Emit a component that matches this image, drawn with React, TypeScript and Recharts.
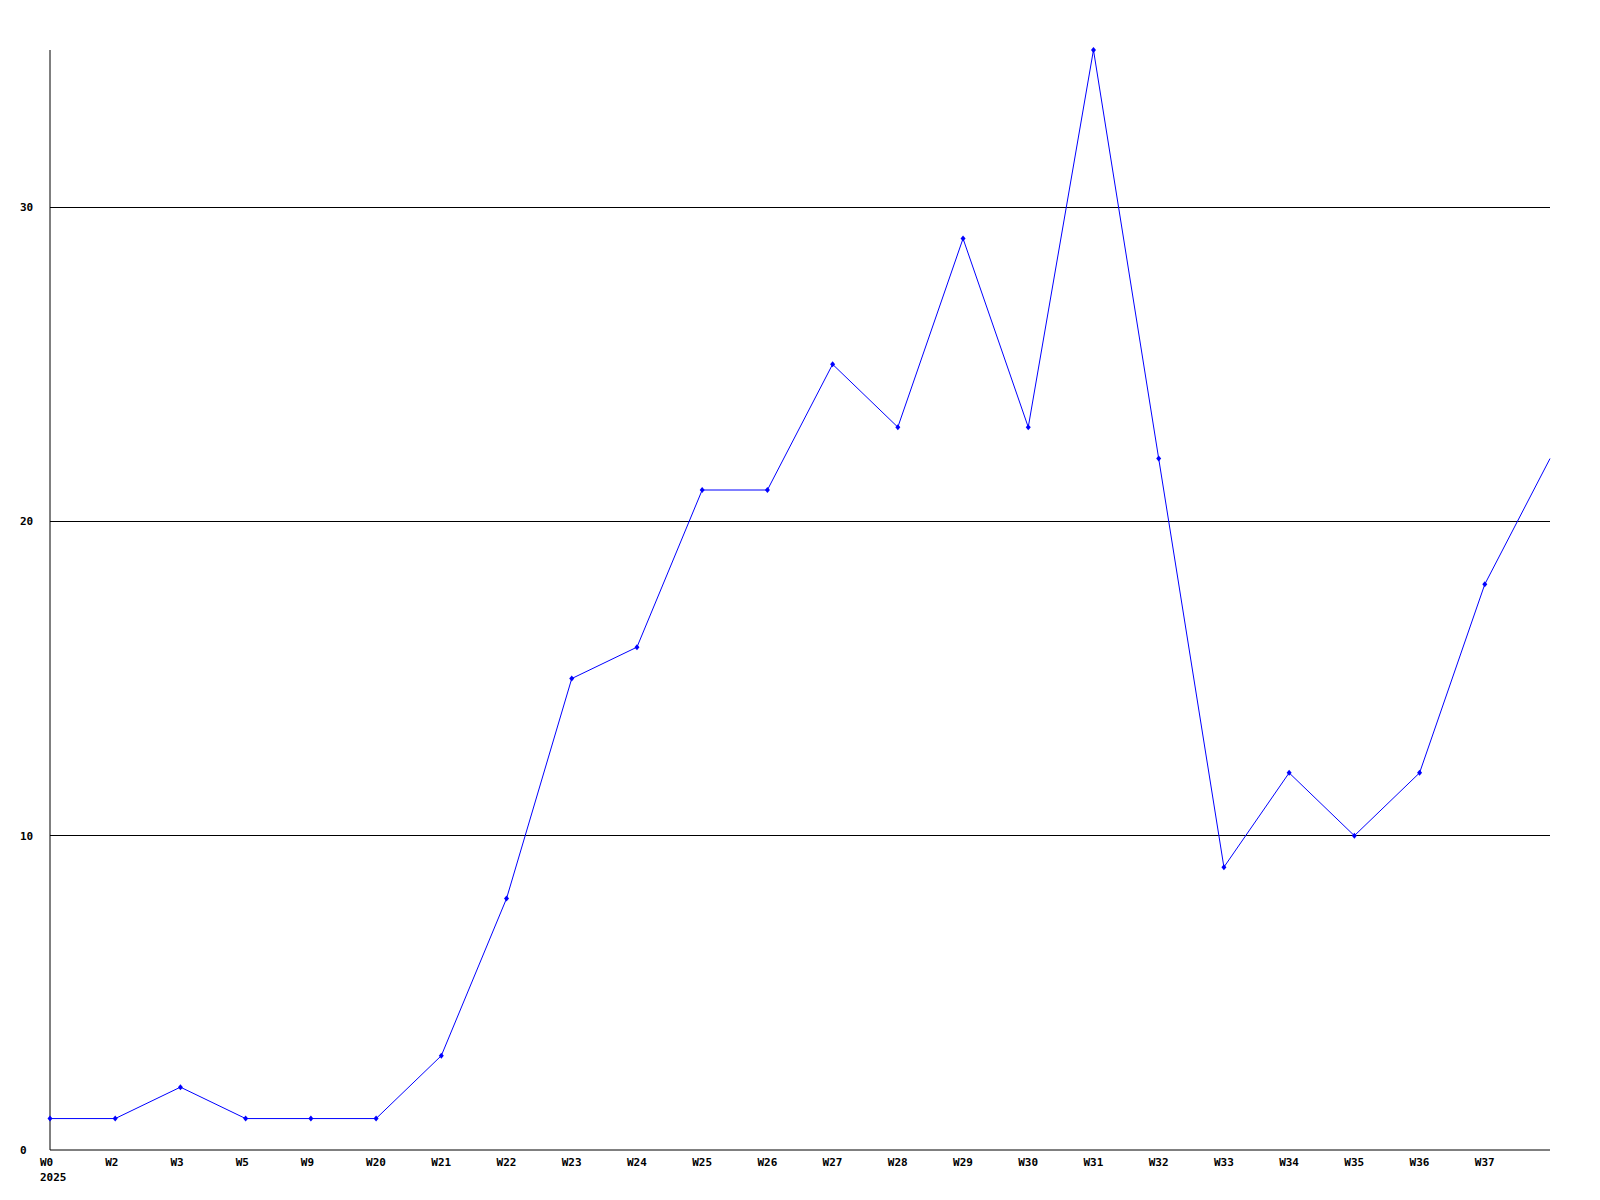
import { CartesianGrid, Line, LineChart, XAxis, YAxis } from "recharts";

const weeks = ["W0", "W2", "W3", "W5", "W9", "W20", "W21", "W22", "W23", "W24", "W25", "W26", "W27", "W28", "W29", "W30", "W31", "W32", "W33", "W34", "W35", "W36", "W37", ""];
const counts = [1, 1, 2, 1, 1, 1, 3, 8, 15, 16, 21, 21, 25, 23, 29, 23, 35, 22, 9, 12, 10, 12, 18, 22];
const yTicks = [0, 10, 20, 30];
const yearLabel = "2025";

const data = weeks.map((w, i) => ({ idx: i, week: w, count: counts[i] }));

const FONT = "'DejaVu Sans Mono', monospace";

function WeekTick(props: any) {
  const { x, y, payload, index } = props;
  const label = weeks[payload.value as number];
  return (
    <g>
      <text x={x - 10} y={y + 8} fontFamily={FONT} fontSize={11} fontWeight="bold" fill="#000">
        {label}
      </text>
      {index === 0 && (
        <text x={x - 10} y={y + 23} fontFamily={FONT} fontSize={11} fontWeight="bold" fill="#000">
          {yearLabel}
        </text>
      )}
    </g>
  );
}

function CountTick(props: any) {
  const { y, payload } = props;
  return (
    <text x={20} y={y + 4} fontFamily={FONT} fontSize={11} fontWeight="bold" fill="#000">
      {payload.value}
    </text>
  );
}

function Diamond(props: any) {
  const { cx, cy, index } = props;
  // the trailing point (no week label) is drawn without a marker
  if (cx == null || cy == null || index === weeks.length - 1) return <g key={`d${index}`} />;
  return <path key={`d${index}`} d={`M${cx},${cy - 3}L${cx + 2.5},${cy}L${cx},${cy + 3}L${cx - 2.5},${cy}Z`} fill="#0000ff" />;
}

export default function App() {
  return (
    <div style={{ position: "absolute", left: 0, top: 0, width: 1600, height: 1200, background: "#fff" }}>
      <LineChart width={1600} height={1200} data={data} margin={{ top: 50, right: 50, left: 0, bottom: 0 }}>
        <CartesianGrid vertical={false} stroke="#000" horizontalValues={[10, 20, 30]} shapeRendering="crispEdges" />
        <XAxis
          dataKey="idx"
          type="category"
          height={50}
          tickLine={false}
          axisLine={{ stroke: "#000" }}
          tick={<WeekTick />}
          interval={0}
        />
        <YAxis
          width={50}
          domain={[0, 35]}
          ticks={yTicks}
          tickLine={false}
          axisLine={{ stroke: "#000" }}
          tick={<CountTick />}
        />
        <Line
          type="linear"
          dataKey="count"
          stroke="#0000ff"
          strokeWidth={1}
          dot={<Diamond />}
          activeDot={false}
          isAnimationActive={false}
        />
      </LineChart>
    </div>
  );
}
